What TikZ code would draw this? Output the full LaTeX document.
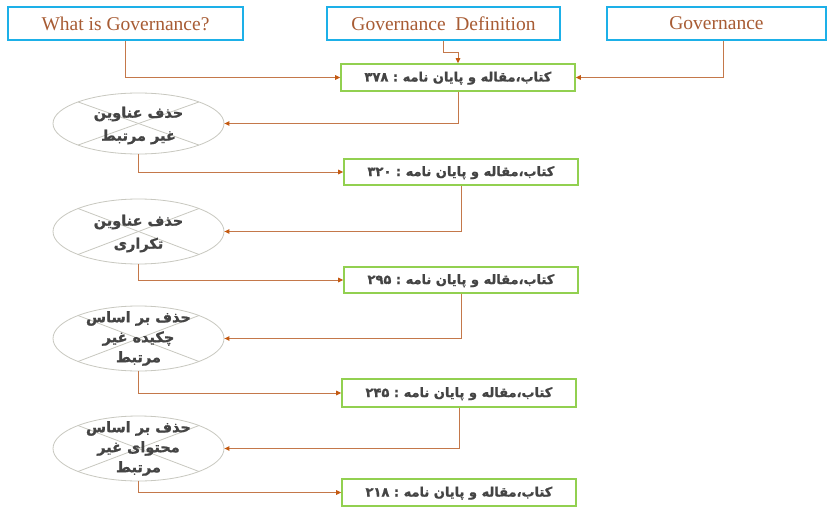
\documentclass[tikz,border=0pt]{standalone}
\usepackage{fontspec}
\setmainfont{Liberation Serif}
\newfontfamily\arabicfont[Script=Arabic,BoldFeatures={FakeBold=1.2}]{DejaVu Sans}
\TeXXeTstate=1
\usetikzlibrary{shapes.geometric,arrows.meta}
\definecolor{bluebox}{HTML}{1DB0E8}
\definecolor{greenbox}{HTML}{92D050}
\definecolor{connc}{HTML}{C4784A}
\definecolor{tipc}{HTML}{C55A11}
\definecolor{engtext}{HTML}{A85C34}
\definecolor{fatext}{HTML}{444444}
\definecolor{xgray}{HTML}{C8C8C0}
\begin{document}
\begin{tikzpicture}[x=1pt,y=-1pt,
  topbox/.style={draw=bluebox,line width=2pt,minimum height=33pt,inner sep=0pt,
    text=engtext,font=\fontsize{19.5}{22}\selectfont},
  greenbox/.style={draw=greenbox,line width=1.6pt,inner sep=0pt,minimum width=234pt,
    text height=9pt,text depth=1pt,
    text=fatext,font=\arabicfont\bfseries\fontsize{13}{15}\selectfont},
  ovalbox/.style={ellipse,draw=xgray,line width=0.8pt,inner sep=0pt,minimum width=171pt},
  ovaltext/.style={text=fatext,align=center,inner sep=0pt,
    font=\arabicfont\bfseries\fontsize{14.5}{#1}\selectfont},
  xline/.style={draw=xgray,line width=0.8pt},
  connector/.style={draw=connc,line width=1pt,-{Triangle[length=5pt,width=4.5pt,color=tipc]}}]
\useasboundingbox[fill=white] (0,0) rectangle (832,508);

% top boxes
\node[topbox,minimum width=235pt] (b1) at (125.5,23.5) {What is Governance?};
\node[topbox,minimum width=233pt] (b2) at (443.5,23.5) {Governance\ \ Definition};
\node[topbox,minimum width=219pt] (b3) at (716.5,23.5) {Governance};

% green boxes
\node[greenbox,minimum height=27pt] (ga) at (458,77.5) {\beginR کتاب،مقاله و پایان نامه :\ \beginL۳۷۸\endL\endR};
\node[greenbox,minimum height=26pt] (gb) at (461,172) {\beginR کتاب،مقاله و پایان نامه :\ \beginL۳۲۰\endL\endR};
\node[greenbox,minimum height=26pt] (gc) at (461,280) {\beginR کتاب،مقاله و پایان نامه :\ \beginL۲۹۵\endL\endR};
\node[greenbox,minimum height=28pt] (gd) at (459,393) {\beginR کتاب،مقاله و پایان نامه :\ \beginL۲۴۵\endL\endR};
\node[greenbox,minimum height=27pt] (ge) at (459,492.5) {\beginR کتاب،مقاله و پایان نامه :\ \beginL۲۱۸\endL\endR};

% ellipses
\foreach \n/\y/\h in {e1/123.5/61, e2/231.5/65, e3/338.5/65, e4/448.5/65}{
  \node[ovalbox,minimum height=\h pt] (\n) at (138.5,\y) {};
  \draw[xline] ([shift={(135:85.5pt and 0.5*\h pt)}]\n.center) -- ([shift={(-45:85.5pt and 0.5*\h pt)}]\n.center);
  \draw[xline] ([shift={(45:85.5pt and 0.5*\h pt)}]\n.center) -- ([shift={(-135:85.5pt and 0.5*\h pt)}]\n.center);
}
\node[ovaltext=23] (t1) at ([yshift=-2pt]e1.center) {\beginR حذف عناوین\endR\\\beginR غیر مرتبط\endR};
\node[ovaltext=23] (t2) at ([yshift=-2pt]e2.center) {\beginR حذف عناوین\endR\\\beginR تکراری\endR};
\node[ovaltext=20] (t3) at (e3.center) {\beginR حذف بر اساس\endR\\\beginR چکیده غیر\endR\\\beginR مرتبط\endR};
\node[ovaltext=20] (t4) at (e4.center) {\beginR حذف بر اساس\endR\\\beginR محتوای غیر\endR\\\beginR مرتبط\endR};

% connectors
\draw[connector] (b1.south) |- (ga.west);
\draw[connector] ([xshift=6.5pt]b3.south) |- (ga.east);
\draw[connector] (b2.south) -- ++(0,12) -| (ga.north);
\draw[connector] (ga.south) |- (e1.east);
\draw[connector] (e1.south) |- (gb.west);
\draw[connector] (gb.south) |- (e2.east);
\draw[connector] (e2.south) |- (gc.west);
\draw[connector] (gc.south) |- (e3.east);
\draw[connector] (e3.south) |- (gd.west);
\draw[connector] (gd.south) |- (e4.east);
\draw[connector] (e4.south) |- (ge.west);
\end{tikzpicture}
\end{document}
